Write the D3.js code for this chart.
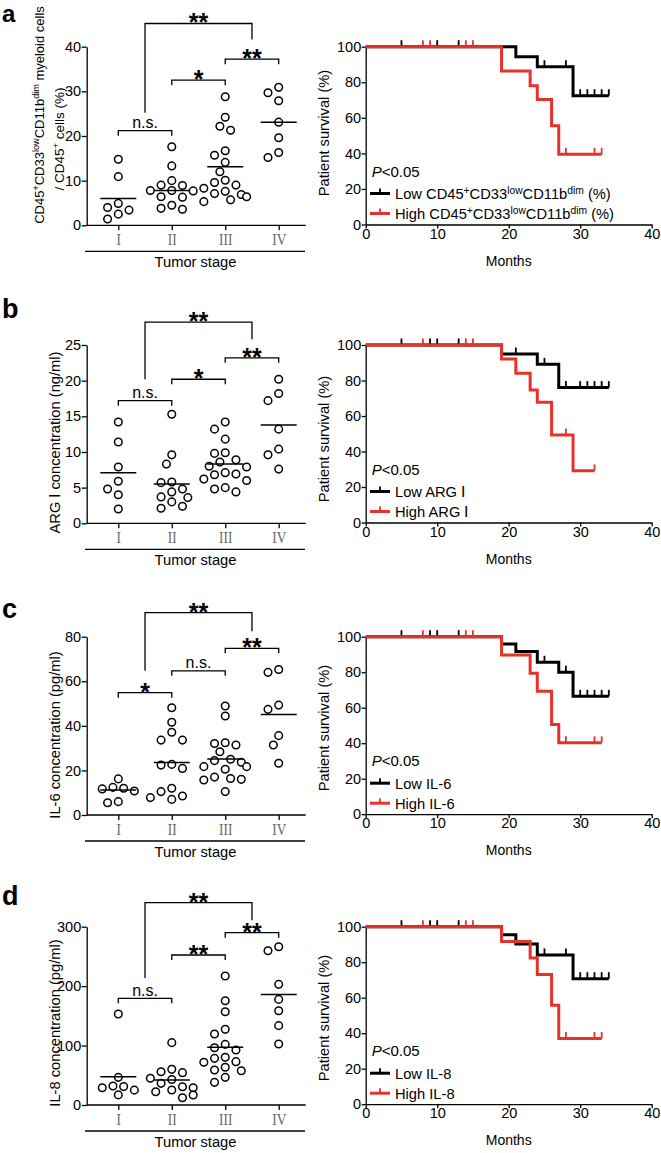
<!DOCTYPE html>
<html><head><meta charset="utf-8">
<script src="https://cdn.jsdelivr.net/npm/d3@7/dist/d3.min.js"></script>
<style>body{margin:0;background:#fff}</style>
</head><body><svg id="chart" width="661" height="1153"></svg>
<script>
// ---------- data ----------
const stageLabels = ["I", "II", "III", "IV"];
const survivalTicks = [0, 20, 40, 60, 80, 100];
const monthTicks = [0, 10, 20, 30, 40];

// panel a
const aPoints = [
  [14.8, 10.9, 4.9, 4.0, 3.4, 2.5, 1.4],
  [17.6, 13.3, 10.0, 9.0, 8.9, 7.8, 7.7, 7.8, 6.4, 6.3, 4.5, 3.8, 3.6],
  [28.8, 24.2, 22.2, 21.3, 16.7, 15.7, 14.1, 12.0, 10.1, 9.6, 9.0, 8.3, 7.6, 7.1, 6.9, 6.4, 5.7, 5.3],
  [30.9, 29.7, 27.9, 23.1, 19.6, 16.3, 15.2]
];
const aMeans = [6.0, 7.8, 13.1, 23.1];
const aYTicks = [0, 10, 20, 30, 40];
const aBrackets = [[0, 1, 21.2, "n.s."], [1, 2, 32.5, "*"], [2, 3, 37.2, "**"]];
const aTopBracket = [45.2, 25.2, 41.6, "**"];
const aLowSteps = [[0, 100], [21, 94.4], [24, 88.7], [29, 72.4]];
const aLowEnd = 34;
const aLowCensor = [5, 10, 13, 25, 28, 30, 31, 32, 33, 34];
const aHighSteps = [[0, 100], [19, 86.3], [23, 78.0], [24, 70.3], [26, 55.5], [27, 39.5]];
const aHighEnd = 33;
const aHighCensor = [8, 9, 14, 15, 28, 32, 33];

// panel b
const bPoints = [
  [14.2, 11.4, 7.9, 5.9, 4.8, 4.0, 2.0],
  [15.3, 9.6, 8.3, 5.8, 5.7, 4.8, 4.4, 3.7, 3.6, 3.0, 2.4, 2.1],
  [14.2, 13.2, 11.8, 9.9, 9.8, 8.9, 8.6, 8.0, 7.9, 7.1, 6.9, 6.8, 6.2, 6.0, 5.0, 4.8, 4.4],
  [20.2, 18.2, 17.2, 13.2, 10.4, 9.6, 7.6]
];
const bMeans = [7.1, 5.5, 8.3, 13.8];
const bYTicks = [0, 5, 10, 15, 20, 25];
const bBrackets = [[0, 1, 17.2, "n.s."], [1, 2, 20.2, "*"], [2, 3, 23.2, "**"]];
const bTopBracket = [28.2, 20.2, 25.8, "**"];
const bLowSteps = [[0, 100], [19, 94.9], [24, 89.1], [27, 76.0]];
const bLowEnd = 34;
const bLowCensor = [5, 9, 10, 13, 21, 25, 28, 30, 31, 32, 33, 34];
const bHighSteps = [[0, 100], [19, 92.1], [21, 84.1], [23, 74.7], [24, 67.7], [26, 49.3], [29, 29.1]];
const bHighEnd = 32;
const bHighCensor = [8, 14, 15, 28, 32];

// panel c
const cPoints = [
  [16.2, 12.4, 12.0, 11.7, 10.8, 6.0, 5.5],
  [48.1, 41.6, 37.1, 33.6, 33.6, 22.7, 22.4, 20.9, 12.0, 10.5, 8.5, 7.8, 7.0],
  [48.9, 44.4, 32.4, 32.1, 31.4, 28.4, 25.0, 24.4, 23.7, 21.7, 21.7, 20.5, 17.0, 16.4, 16.0, 15.7, 10.5],
  [65.3, 64.0, 49.3, 47.4, 35.6, 31.4, 23.2]
];
const cMeans = [11.2, 23.6, 25.1, 45.1];
const cYTicks = [0, 20, 40, 60, 80];
const cBrackets = [[0, 1, 54.9, "*"], [1, 2, 64.7, "n.s."], [2, 3, 74.8, "**"]];
const cTopBracket = [90.8, 64.7, 82.5, "**"];
const cLowSteps = [[0, 100], [19, 95.9], [21, 91.6], [24, 85.6], [27, 80.0], [29, 66.4]];
const cLowEnd = 34;
const cLowCensor = [5, 9, 10, 13, 25, 28, 30, 31, 32, 33, 34];
const cHighSteps = [[0, 100], [19, 89.7], [23, 79.4], [24, 69.3], [26, 50.5], [27, 40.2]];
const cHighEnd = 33;
const cHighCensor = [8, 14, 15, 28, 32, 33];

// panel d
const dPoints = [
  [153, 46.5, 32, 31, 29, 25, 17],
  [104.9, 60, 56, 54.4, 44.9, 43, 36.4, 30.8, 29, 25.2, 22.4, 16.8, 12.3],
  [217, 175.5, 157, 127.3, 119.4, 102, 96.4, 92.5, 80.2, 78.5, 72.9, 72, 63.4, 58.9, 57.7, 46.5, 38.1],
  [266.3, 259.6, 203, 177.7, 158.7, 133.5, 102.6]
];
const dMeans = [47.7, 42, 97, 186];
const dYTicks = [0, 100, 200, 300];
const dBrackets = [[0, 1, 179.5, "n.s."], [1, 2, 252.4, "**"], [2, 3, 290, "**"]];
const dTopBracket = [340.5, 213.8, 311, "**"];
const dLowSteps = [[0, 100], [19, 95.5], [21, 90.3], [24, 84.1], [29, 70.7]];
const dLowEnd = 34;
const dLowCensor = [5, 9, 10, 13, 25, 28, 30, 31, 32, 33, 34];
const dHighSteps = [[0, 100], [19, 91.6], [23, 82.4], [24, 73.1], [26, 55.7], [27, 37.0]];
const dHighEnd = 33;
const dHighCensor = [8, 14, 15, 28, 32, 33];

// texts
const aYLabel = [
  [["CD45"], ["+", "sup"], ["CD33"], ["low", "sup"], ["CD11b"], ["dim", "sup"], [" myeloid cells"]],
  [["/ CD45"], ["+", "sup"], [" cells (%)"]]
];
const bYLabel = [[["ARG Ⅰ  concentration (ng/ml)"]]];
const cYLabel = [[["IL-6 concentration (pg/ml)"]]];
const dYLabel = [[["IL-8 concentration (pg/ml)"]]];
const aLegend = [
  [["Low CD45"], ["+", "sup"], ["CD33"], ["low", "sup"], ["CD11b"], ["dim", "sup"], [" (%)"]],
  [["High CD45"], ["+", "sup"], ["CD33"], ["low", "sup"], ["CD11b"], ["dim", "sup"], [" (%)"]]
];
const bLegend = [[["Low ARG Ⅰ"]], [["High ARG Ⅰ"]]];
const cLegend = [[["Low IL-6"]], [["High IL-6"]]];
const dLegend = [[["Low IL-8"]], [["High IL-8"]]];

// ---------- layout ----------
const FONT = "'Liberation Sans', Arial, sans-serif";
const RED = "#e5322a";
const rowTop = [46.7, 345, 636.7, 926.7];
const rowBottom = [225.3, 523.3, 815, 1105];
const letterBaseline = [22, 318.3, 618.3, 905];
const yLabelPos = [[[44, 115, 13], [63.5, 139, 13.5]], [[60, 442.5, 14.7]], [[60, 735, 14.7]], [[60, 1023, 14.7]]];
const survLabelY = [133, 439, 728, 1018];

const panels = [
  {letter: "a", points: aPoints, means: aMeans, yTicks: aYTicks, brackets: aBrackets, top: aTopBracket, yLabel: aYLabel, legend: aLegend,
   low: [aLowSteps, aLowEnd, aLowCensor], high: [aHighSteps, aHighEnd, aHighCensor]},
  {letter: "b", points: bPoints, means: bMeans, yTicks: bYTicks, brackets: bBrackets, top: bTopBracket, yLabel: bYLabel, legend: bLegend,
   low: [bLowSteps, bLowEnd, bLowCensor], high: [bHighSteps, bHighEnd, bHighCensor]},
  {letter: "c", points: cPoints, means: cMeans, yTicks: cYTicks, brackets: cBrackets, top: cTopBracket, yLabel: cYLabel, legend: cLegend,
   low: [cLowSteps, cLowEnd, cLowCensor], high: [cHighSteps, cHighEnd, cHighCensor]},
  {letter: "d", points: dPoints, means: dMeans, yTicks: dYTicks, brackets: dBrackets, top: dTopBracket, yLabel: dYLabel, legend: dLegend,
   low: [dLowSteps, dLowEnd, dLowCensor], high: [dHighSteps, dHighEnd, dHighCensor]}
];

const svg = d3.select("#chart").attr("font-family", FONT);
svg.append("rect").attr("width", 661).attr("height", 1153).attr("fill", "#fff");

function rich(sel, parts) {
  parts.forEach(([t, kind]) => {
    const ts = sel.append("tspan").text(t);
    if (kind === "sup") ts.attr("baseline-shift", "super").attr("font-size", "0.7em");
  });
}

function styleAxis(g, fs) {
  g.attr("font-family", FONT).attr("font-size", fs);
  g.selectAll("path.domain").attr("stroke-width", 1.3);
  g.selectAll(".tick line").attr("stroke-width", 1.3);
}

function swarm(values, yScale, cx) {
  const step = 5.35, minD = 9.8;
  const cands = [0, -step, step, -2 * step, 2 * step, -3 * step, 3 * step, -4 * step, 4 * step];
  const placed = [];
  const sorted = values.slice().sort((a, b) => b - a);
  sorted.forEach(v => {
    const py = yScale(v);
    let best = cands[cands.length - 1];
    for (const c of cands) {
      if (placed.every(p => Math.hypot(p.x - (cx + c), p.y - py) >= minD)) { best = c; break; }
    }
    placed.push({x: cx + best, y: py, v});
  });
  return placed;
}

function survAt(steps, t) {
  let s = 100;
  steps.forEach(([ti, si]) => { if (ti <= t) s = si; });
  return s;
}

panels.forEach((p, i) => {
  const top = rowTop[i], bot = rowBottom[i];
  const g = svg.append("g");

  // panel letter
  g.append("text").attr("x", 2).attr("y", letterBaseline[i]).attr("font-size", i === 0 ? 24 : 27).attr("font-weight", "bold").text(p.letter);

  // ---- scatter ----
  const yMax = p.yTicks[p.yTicks.length - 1];
  const y = d3.scaleLinear().domain([0, yMax]).range([bot, top]);
  const x = d3.scalePoint().domain(stageLabels).range([118.3, 278.7]);
  const axL = g.append("g").attr("transform", "translate(86.7,0)")
    .call(d3.axisLeft(y).tickValues(p.yTicks).tickSize(5).tickSizeOuter(0).tickPadding(0.5));
  styleAxis(axL, 14.5);

  g.append("line").attr("x1", 86.7).attr("x2", 305.7).attr("y1", bot).attr("y2", bot).attr("stroke", "#000").attr("stroke-width", 1.3);
  const axB = g.append("g").attr("transform", `translate(0,${bot})`)
    .call(d3.axisBottom(x).tickSize(5).tickPadding(3));
  axB.select("path.domain").remove();
  styleAxis(axB, 17);
  axB.selectAll("text").attr("font-family", "'Liberation Serif', 'Times New Roman', serif")
    .attr("fill", "#666").attr("transform", "scale(0.78,1)");

  g.append("line").attr("x1", 85).attr("x2", 305).attr("y1", bot + 26).attr("y2", bot + 26).attr("stroke", "#000").attr("stroke-width", 1.3);
  g.append("text").attr("x", 195.5).attr("y", bot + 42).attr("text-anchor", "middle").attr("font-size", 14.7).text("Tumor stage");

  // y label
  p.yLabel.forEach((parts, k) => {
    const [lx, ly, fs] = yLabelPos[i][k];
    const t = g.append("text").attr("transform", `translate(${lx},${ly}) rotate(-90)`)
      .attr("text-anchor", "middle").attr("font-size", fs);
    rich(t, parts);
  });

  // points
  p.points.forEach((vals, k) => {
    const cx = x(stageLabels[k]);
    const pts = swarm(vals, y, cx);
    g.append("g").selectAll("circle").data(pts).join("circle")
      .attr("cx", d => d.x).attr("cy", d => d.y).attr("r", 3.8)
      .attr("fill", "#fff").attr("stroke", "#000").attr("stroke-width", 1.5);
    g.append("line").attr("x1", cx - 18).attr("x2", cx + 18)
      .attr("y1", y(p.means[k])).attr("y2", y(p.means[k])).attr("stroke", "#000").attr("stroke-width", 1.5);
  });

  // brackets
  function sigText(xc, yb, label) {
    if (label === "n.s.") {
      g.append("text").attr("x", xc).attr("y", yb - 2.5).attr("text-anchor", "middle").attr("font-size", 16).text(label);
    } else {
      g.append("text").attr("x", xc).attr("y", yb + 8).attr("text-anchor", "middle").attr("font-size", 25).attr("font-weight", "bold").text(label);
    }
  }
  p.brackets.forEach(([a, b, lv, label]) => {
    const x1 = x(stageLabels[a]), x2 = x(stageLabels[b]), yb = y(lv);
    g.append("path").attr("d", `M${x1},${yb + 5}V${yb}H${x2}V${yb + 5}`)
      .attr("fill", "none").attr("stroke", "#000").attr("stroke-width", 1.3);
    sigText((x1 + x2) / 2, yb, label);
  });
  {
    const [lv, lb, rb, label] = p.top;
    const x1 = (x(stageLabels[0]) + x(stageLabels[1])) / 2;
    const x2 = (x(stageLabels[2]) + x(stageLabels[3])) / 2;
    const yb = y(lv);
    g.append("path").attr("d", `M${x1},${y(lb)}V${yb}H${x2}V${y(rb)}`)
      .attr("fill", "none").attr("stroke", "#000").attr("stroke-width", 1.3);
    sigText((x1 + x2) / 2, yb, label);
  }

  // ---- survival ----
  const sbot = bot - 0.8;
  const sx = d3.scaleLinear().domain([0, 40]).range([365.7, 651.7]);
  const sy = d3.scaleLinear().domain([0, 100]).range([sbot, top]);
  const sL = g.append("g").attr("transform", "translate(365.7,0)")
    .call(d3.axisLeft(sy).tickValues(survivalTicks).tickSize(4).tickSizeOuter(0).tickPadding(0.5));
  styleAxis(sL, 14.5);
  const sB = g.append("g").attr("transform", `translate(0,${sbot})`)
    .call(d3.axisBottom(sx).tickValues(monthTicks).tickSize(4).tickSizeOuter(0).tickPadding(0));
  styleAxis(sB, 14.5);
  g.append("text").attr("x", 508.7).attr("y", sbot + 41).attr("text-anchor", "middle").attr("font-size", 14).text("Months");
  g.append("text").attr("transform", `translate(329,${survLabelY[i]}) rotate(-90)`)
    .attr("text-anchor", "middle").attr("font-size", 14.7).text("Patient survival (%)");

  const line = d3.line().x(d => sx(d[0])).y(d => sy(d[1])).curve(d3.curveStepAfter);
  [[p.low, "#000"], [p.high, RED]].forEach(([[steps, end, censor], col]) => {
    const pts = steps.concat([[end, steps[steps.length - 1][1]]]);
    g.append("path").attr("d", line(pts)).attr("fill", "none").attr("stroke", col).attr("stroke-width", 3);
    g.append("g").selectAll("line").data(censor).join("line")
      .attr("x1", d => sx(d)).attr("x2", d => sx(d))
      .attr("y1", d => sy(survAt(steps, d))).attr("y2", d => sy(survAt(steps, d)) - 6.5)
      .attr("stroke", col).attr("stroke-width", 1.8);
  });

  // legend
  const pt = g.append("text").attr("x", 371.7).attr("y", sbot - 48).attr("font-size", 15);
  pt.append("tspan").attr("font-style", "italic").text("P");
  pt.append("tspan").text("<0.05");
  [["#000", sbot - 31], [RED, sbot - 11]].forEach(([col, ly], k) => {
    g.append("line").attr("x1", 370).attr("x2", 390).attr("y1", ly).attr("y2", ly).attr("stroke", col).attr("stroke-width", 3);
    g.append("line").attr("x1", 380).attr("x2", 380).attr("y1", ly).attr("y2", ly - 5).attr("stroke", col).attr("stroke-width", 1.8);
    const t = g.append("text").attr("x", 395).attr("y", ly + 5.5).attr("font-size", 14.7);
    rich(t, p.legend[k]);
  });
});
</script></body></html>
